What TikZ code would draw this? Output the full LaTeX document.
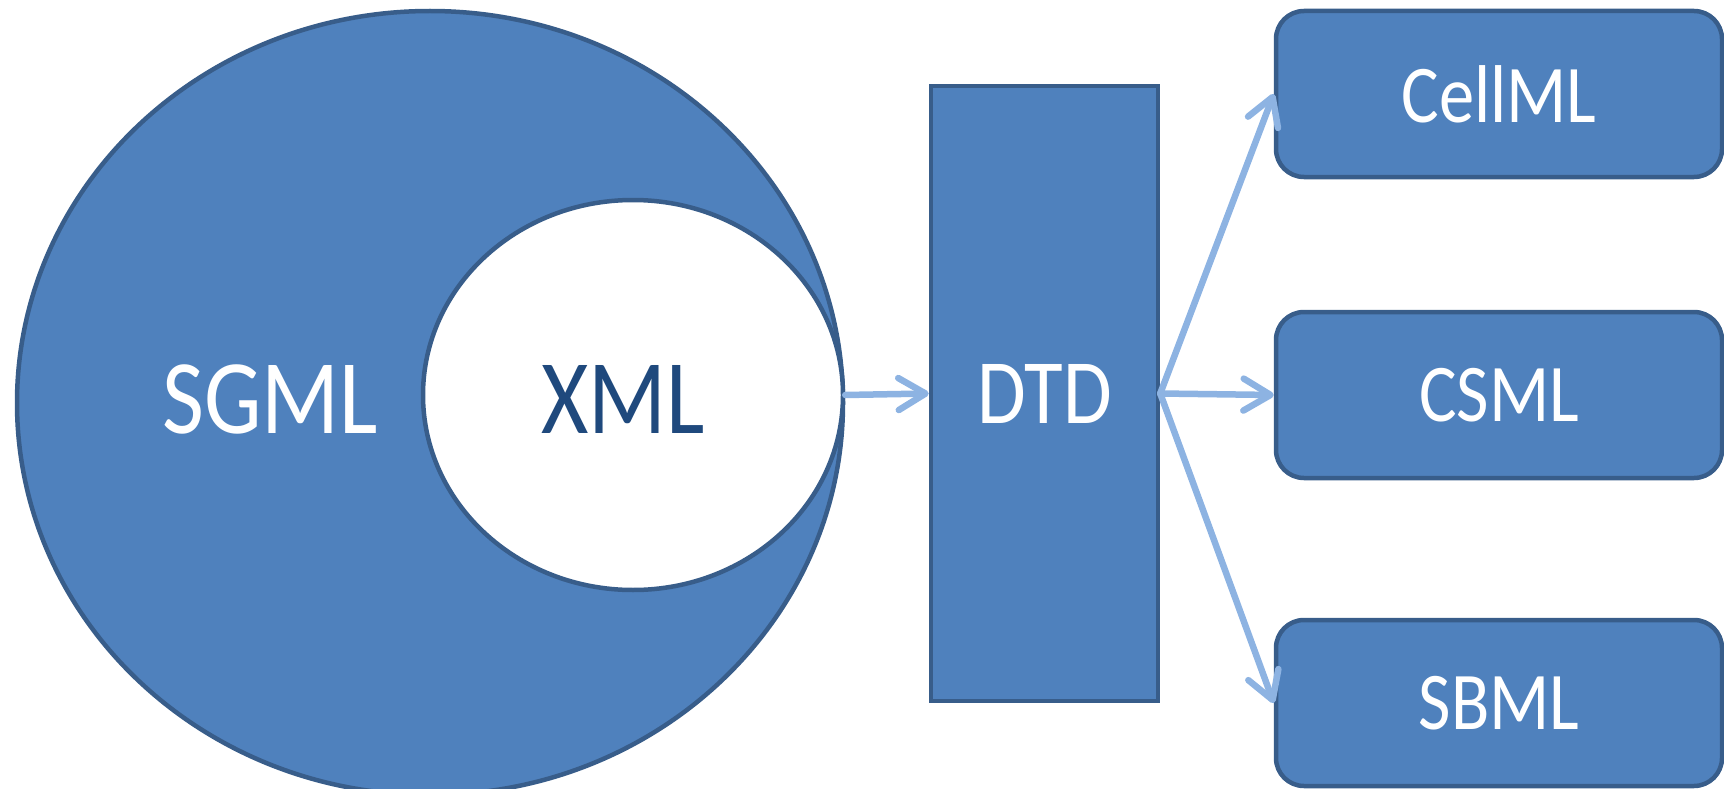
\documentclass[tikz,border=0pt]{standalone}
\usepackage{fontspec}
\setmainfont{Carlito}[FakeStretch=0.86]
\usetikzlibrary{shapes.geometric,arrows.meta}
\definecolor{fillblue}{HTML}{4F81BD}
\definecolor{edgeblue}{HTML}{385D8A}
\definecolor{arrowblue}{HTML}{8DB3E2}
\definecolor{darktext}{HTML}{1F497D}
\tikzset{
  ell/.style={ellipse, draw=edgeblue, fill=fillblue, line width=4.5pt, inner sep=0pt},
  lbl/.style={inner sep=0pt, text=white},
  dtdbox/.style={rectangle, draw=edgeblue, fill=fillblue, line width=4.5pt, inner sep=0pt,
    minimum width=227pt, minimum height=615pt},
  langbox/.style={rectangle, rounded corners=28pt, draw=edgeblue, fill=fillblue, line width=4.5pt,
    inner sep=0pt, minimum width=446pt, minimum height=166pt, text=white,
    font=\fontsize{82}{86}\selectfont},
  conn/.style={draw=arrowblue, line width=6.5pt, line cap=round,
    -{Straight Barb[length=27pt, width=32pt, round]}}
}
\begin{document}
\begin{tikzpicture}[x=1pt,y=-1pt]
\useasboundingbox (0,0) rectangle (1724,789);
\clip (0,0) rectangle (1724,789);
\node[ell, minimum width=826pt, minimum height=784pt] (sgml) at (430,403) {};
\node[ell, fill=white, minimum width=420pt, minimum height=390pt] (xml) at (633,395) {};
\node[lbl, font=\fontsize{106}{110}\selectfont] (sgmltext) at (270,399) {SGML};
\node[lbl, text=darktext, font=\fontsize{106}{110}\selectfont] (xmltext) at (623,399) {XML};
\node[dtdbox, font=\fontsize{92}{96}\selectfont, text=white] (dtd) at (1044.5,393.5) {DTD};
\node[langbox] (cellml) at (1499,94) {CellML};
\node[langbox] (csml) at (1499,395) {CSML};
\node[langbox] (sbml) at (1499,703) {SBML};
\draw[conn] (xml.east) -- (dtd.west);
\draw[conn] (dtd.east) -- (cellml.west);
\draw[conn] (dtd.east) -- (csml.west);
\draw[conn] (dtd.east) -- (sbml.west);
\end{tikzpicture}
\end{document}
